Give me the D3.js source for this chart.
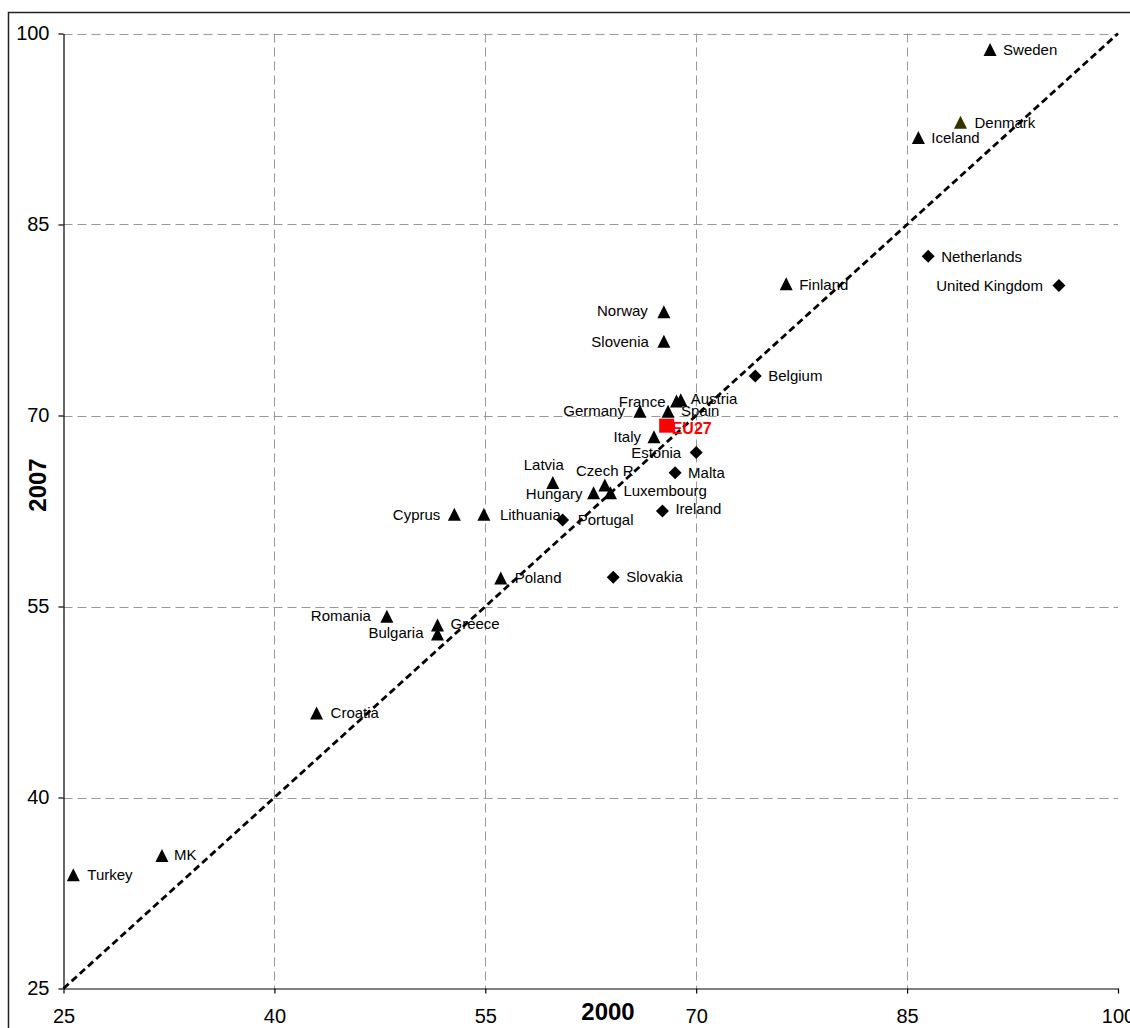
<!DOCTYPE html>
<html>
<head>
<meta charset="utf-8">
<script src="https://cdn.jsdelivr.net/npm/d3@7"></script>
<style>
  html, body { margin: 0; padding: 0; background: #fff; }
  svg { display: block; }
  text { font-family: "Liberation Sans", Arial, sans-serif; }
</style>
</head>
<body>
<script>
// ---- Data ----
const countries = ["Sweden","Denmark","Iceland","Netherlands","United Kingdom","Finland","Norway","Slovenia","Belgium","Austria","France","Germany","Spain","EU27","Italy","Estonia","Malta","Latvia","Czech R","Hungary","Luxembourg","Ireland","Portugal","Slovakia","Poland","Lithuania","Cyprus","Romania","Greece","Bulgaria","Croatia","MK","Turkey"];
const values2000 = [90.9,88.8,85.8,86.5,95.8,76.4,67.7,67.7,74.2,68.9,68.6,66.0,68.0,67.9,67.0,70.0,68.5,59.8,63.5,62.7,63.9,67.6,60.5,64.1,56.1,54.9,52.8,48.0,51.6,51.6,43.0,32.0,25.7];
const values2007 = [98.7,93.0,91.8,82.5,80.2,80.3,78.1,75.8,73.1,71.2,71.1,70.3,70.3,69.2,68.3,67.1,65.5,64.7,64.5,63.9,63.9,62.5,61.8,57.3,57.2,62.2,62.2,54.2,53.5,52.8,46.6,35.4,33.9];
const markerTypes = ["triangle","triangleOlive","triangle","diamond","diamond","triangle","triangle","triangle","diamond","triangle","triangle","triangle","triangle","square","triangle","diamond","diamond","triangle","triangle","triangle","triangle","diamond","diamond","diamond","triangle","triangle","triangle","triangle","triangle","triangle","triangle","triangle","triangle"];
const tickValues = [25,40,55,70,85,100];
const xTitle = "2000";
const yTitle = "2007";

// ---- Label placement (layout only) ----
const labelPlacement = {
  "Sweden":["r",13,0], "Denmark":["r",14,0], "Iceland":["r",13,0], "Netherlands":["r",13,0],
  "United Kingdom":["l",-16,0], "Finland":["r",13,0], "Norway":["l",-16,-2], "Slovenia":["l",-15,0],
  "Belgium":["r",13,0], "Austria":["r",10,-1], "France":["l",-11,0], "Germany":["l",-15,-1],
  "Spain":["r",13,-1], "EU27":["r",5,3], "Italy":["l",-13,0], "Estonia":["l",-15,0],
  "Malta":["r",13,0], "Latvia":["t",-9,-18], "Czech R":["t",0,-15], "Hungary":["l",-11,1],
  "Luxembourg":["r",13,-2], "Ireland":["r",13,-2], "Portugal":["r",15,0], "Slovakia":["r",13,0],
  "Poland":["r",14,-1], "Lithuania":["r",16,0], "Cyprus":["l",-14,0], "Romania":["l",-16,-1],
  "Greece":["r",13,-2], "Bulgaria":["l",-14,-2], "Croatia":["r",14,-1], "MK":["r",12,-1], "Turkey":["r",14,0]
};

const W = 1130, H = 1028;
const plotLeft = 63.5, plotRight = 1118, plotTop = 33.5, plotBottom = 988.5;

const svg = d3.select("body").append("svg").attr("width", W).attr("height", H);

// outer frame
svg.append("rect").attr("x", 8.5).attr("y", 12.5).attr("width", 1140).attr("height", 1040)
  .attr("fill", "none").attr("stroke", "#222").attr("stroke-width", 1.5);

const x = d3.scaleLinear().domain([25, 100]).range([plotLeft, plotRight]);
const y = d3.scaleLinear().domain([25, 100]).range([plotBottom, plotTop]);

// gridlines
const grid = svg.append("g");
grid.selectAll("line.vg").data(tickValues.filter(v => v > 25 && v < 100)).join("line")
  .attr("class", "vg")
  .attr("x1", d => Math.round(x(d)) + 0.5).attr("x2", d => Math.round(x(d)) + 0.5)
  .attr("y1", plotTop).attr("y2", plotBottom)
  .attr("stroke", "#999").attr("stroke-width", 1).attr("stroke-dasharray", "9,5");
grid.selectAll("line.hg").data(tickValues.filter(v => v > 25)).join("line")
  .attr("class", "hg")
  .attr("y1", d => Math.round(y(d)) + 0.5).attr("y2", d => Math.round(y(d)) + 0.5)
  .attr("x1", plotLeft).attr("x2", plotRight)
  .attr("stroke", "#999").attr("stroke-width", 1).attr("stroke-dasharray", "9,5");

// axes
const xAxis = svg.append("g").attr("transform", `translate(0,${plotBottom})`)
  .call(d3.axisBottom(x).tickValues(tickValues).tickSize(5).tickPadding(15).tickSizeOuter(0));
const yAxis = svg.append("g").attr("transform", `translate(${plotLeft},0)`)
  .call(d3.axisLeft(y).tickValues(tickValues).tickSize(5).tickPadding(9).tickSizeOuter(0));
[xAxis, yAxis].forEach(a => {
  a.select(".domain").attr("stroke", "#000").attr("stroke-width", 1.2);
  a.selectAll(".tick line").attr("stroke", "#000").attr("stroke-width", 1.2);
  a.selectAll(".tick text").attr("font-size", 20).attr("fill", "#000")
    .attr("font-family", "'Liberation Sans', Arial, sans-serif");
});

// diagonal reference line
svg.append("line")
  .attr("x1", x(25)).attr("y1", y(25)).attr("x2", x(100)).attr("y2", y(100))
  .attr("stroke", "#000").attr("stroke-width", 2.8).attr("stroke-dasharray", "7,4");

// axis titles
svg.append("text").attr("x", 608).attr("y", 1020).attr("text-anchor", "middle")
  .attr("font-size", 24).attr("font-weight", "bold").text(xTitle);
svg.append("text").attr("transform", "translate(46,485) rotate(-90)").attr("text-anchor", "middle")
  .attr("font-size", 24).attr("font-weight", "bold").text(yTitle);

// markers
const data = countries.map((c, i) => ({ name: c, x: values2000[i], y: values2007[i], type: markerTypes[i] }));

function markerPath(type) {
  if (type === "diamond") return "M0,-6.5L6.5,0L0,6.5L-6.5,0Z";
  if (type === "square") return "M-7.5,-7L7.5,-7L7.5,7L-7.5,7Z";
  return "M0,-7L6.5,6L-6.5,6Z";
}
function markerColor(type) {
  if (type === "square") return "#ff0000";
  if (type === "triangleOlive") return "#333300";
  return "#000";
}

svg.append("g").selectAll("path").data(data).join("path")
  .attr("transform", d => `translate(${x(d.x)},${y(d.y)})`)
  .attr("d", d => markerPath(d.type))
  .attr("fill", d => markerColor(d.type));

// labels
svg.append("g").selectAll("text").data(data).join("text")
  .attr("x", d => x(d.x) + labelPlacement[d.name][1])
  .attr("y", d => y(d.y) + labelPlacement[d.name][2])
  .attr("dy", "0.35em")
  .attr("text-anchor", d => {
    const s = labelPlacement[d.name][0];
    return s === "r" ? "start" : s === "l" ? "end" : "middle";
  })
  .attr("font-size", d => d.type === "square" ? 16 : 15)
  .attr("font-weight", d => d.type === "square" ? "bold" : "normal")
  .attr("fill", d => d.type === "square" ? "#ff0000" : "#000")
  .text(d => d.name);
</script>
</body>
</html>
